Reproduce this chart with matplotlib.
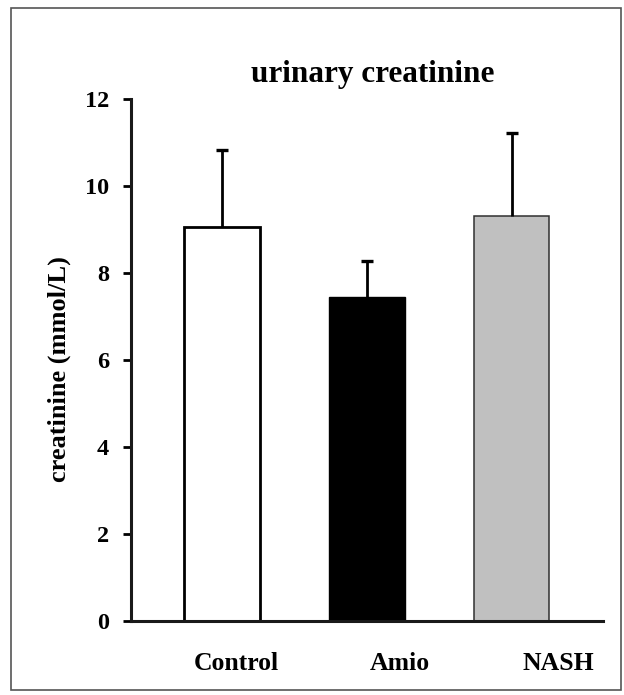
import matplotlib
matplotlib.use("Agg")
import matplotlib.pyplot as plt
from matplotlib.patches import Rectangle

# Urinary creatinine by group (mean + SD)
groups = ["Control", "Amio", "NASH"]
means = [9.05, 7.45, 9.3]
sds = [1.78, 0.82, 1.92]
fills = ["white", "black", "#c0c0c0"]
edges = ["black", "black", "#303030"]
edge_widths = [2.0, 1.0, 1.1]
yticks = [0, 2, 4, 6, 8, 10, 12]

plt.rcParams["font.family"] = ["Liberation Serif", "DejaVu Serif"]
plt.rcParams["font.weight"] = "bold"

W, H = 624, 695
fig = plt.figure(figsize=(W / 100, H / 100), dpi=100)
fig.patch.set_facecolor("white")

# Thin frame around the whole figure
fig.add_artist(Rectangle((11 / W, 1 - 690 / H), (621 - 11) / W, (690 - 8) / H,
                         transform=fig.transFigure, fill=False,
                         edgecolor="#555555", linewidth=1.2))

ax = fig.add_axes([131 / W, 1 - 621 / H, (603 - 131) / W, (621 - 99) / H])

x = list(range(len(groups)))
for xi, m, s, fc, ec, lw in zip(x, means, sds, fills, edges, edge_widths):
    ax.bar(xi, m, width=0.52, color=fc, edgecolor=ec, linewidth=lw, zorder=2)
    _, caps, _ = ax.errorbar(xi, m, yerr=[[0], [s]], fmt="none", ecolor="black",
                             elinewidth=2.0, capsize=4, capthick=2.4, zorder=3)
    # keep only the upper cap
    caps[0].set_visible(False)

ax.set_xlim(-0.628, 2.63)
ax.set_ylim(0, 12)
ax.set_yticks(yticks)
ax.set_yticklabels([str(t) for t in yticks], fontsize=17.5, fontweight="bold")

# Category labels sit to the right of each bar
label_pos = [0.10, 1.228, 2.32]
ax.set_xticks(label_pos)
ax.set_xticklabels(groups, fontsize=18.5, fontweight="bold")
ax.tick_params(axis="x", length=0, pad=22)
ax.tick_params(axis="y", direction="out", length=6, width=2, pad=10)

for side in ("top", "right"):
    ax.spines[side].set_visible(False)
for side in ("left", "bottom"):
    ax.spines[side].set_linewidth(2.2)
    ax.spines[side].set_color("#1a1a1a")

ax.set_ylabel("creatinine (mmol/L)", fontsize=19, fontweight="bold")
ax.yaxis.set_label_coords(-0.127, 0.483)

ax.text(0.513, 1.046, "urinary creatinine", transform=ax.transAxes,
        ha="center", va="center", fontsize=22.5, fontweight="bold")

fig.savefig("out.png", dpi=100)
